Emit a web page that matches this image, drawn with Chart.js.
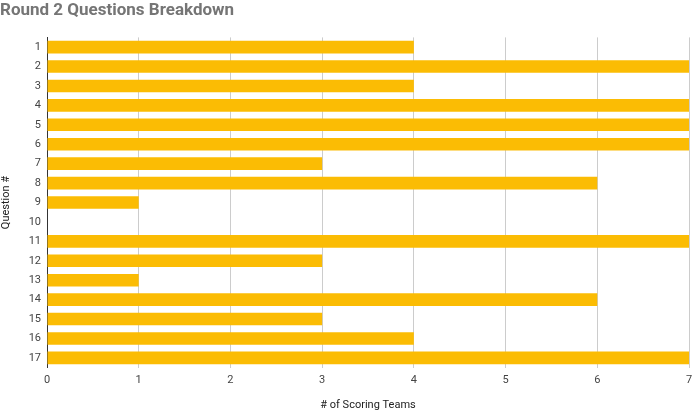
<!DOCTYPE html>
<html>
<head>
<meta charset="UTF-8">
<title>Round 2 Questions Breakdown</title>
<script src="https://cdn.jsdelivr.net/npm/chart.js"></script>
<style>
    body { margin: 0; background: #fff; }
    #chart { display: block; }
</style>
</head>
<body>
<canvas id="chart" width="700" height="412"></canvas>
<script>
// data
const questions = ['1','2','3','4','5','6','7','8','9','10','11','12','13','14','15','16','17'];
const scoringTeams = [4, 7, 4, 7, 7, 7, 3, 6, 1, 0, 7, 3, 1, 6, 3, 4, 7];
const xTicks = [0, 1, 2, 3, 4, 5, 6, 7];

const ctx = document.getElementById('chart').getContext('2d');
new Chart(ctx, {
    type: 'bar',
    data: {
        labels: questions,
        datasets: [{
            label: '# of Scoring Teams',
            data: scoringTeams,
            backgroundColor: '#fbbc04',
            barPercentage: 0.65,
            categoryPercentage: 1.0
        }]
    },
    options: {
        indexAxis: 'y',
        responsive: false,
        animation: false,
        layout: { padding: { left: 0, right: 11, top: 0, bottom: 0 } },
        plugins: {
            legend: { display: false },
            tooltip: { enabled: false },
            title: {
                display: true,
                text: 'Round 2 Questions Breakdown',
                align: 'start',
                color: '#757575',
                font: { family: 'Roboto', size: 17, weight: 'bold' },
                padding: { top: 1, bottom: 16 }
            }
        },
        scales: {
            x: {
                min: 0,
                max: 7,
                afterBuildTicks: (axis) => { axis.ticks = xTicks.map(v => ({ value: v })); },
                grid: { color: '#cccccc', drawTicks: false },
                border: { display: false },
                ticks: { color: '#444', font: { family: 'Roboto', size: 11 }, padding: 6 },
                title: {
                    display: true,
                    text: '# of Scoring Teams',
                    color: '#222',
                    font: { family: 'Roboto', size: 11 },
                    padding: { top: 6, bottom: 0 }
                }
            },
            y: {
                grid: { display: false, drawTicks: false },
                border: { display: true, color: '#333' },
                ticks: { color: '#444', font: { family: 'Roboto', size: 11 }, padding: 6 },
                title: {
                    display: true,
                    text: 'Question #',
                    color: '#222',
                    font: { family: 'Roboto', size: 11 },
                    padding: { top: 0, bottom: 4 }
                },
                afterFit: (axis) => { axis.width = 47; }
            }
        }
    }
});
</script>
</body>
</html>
